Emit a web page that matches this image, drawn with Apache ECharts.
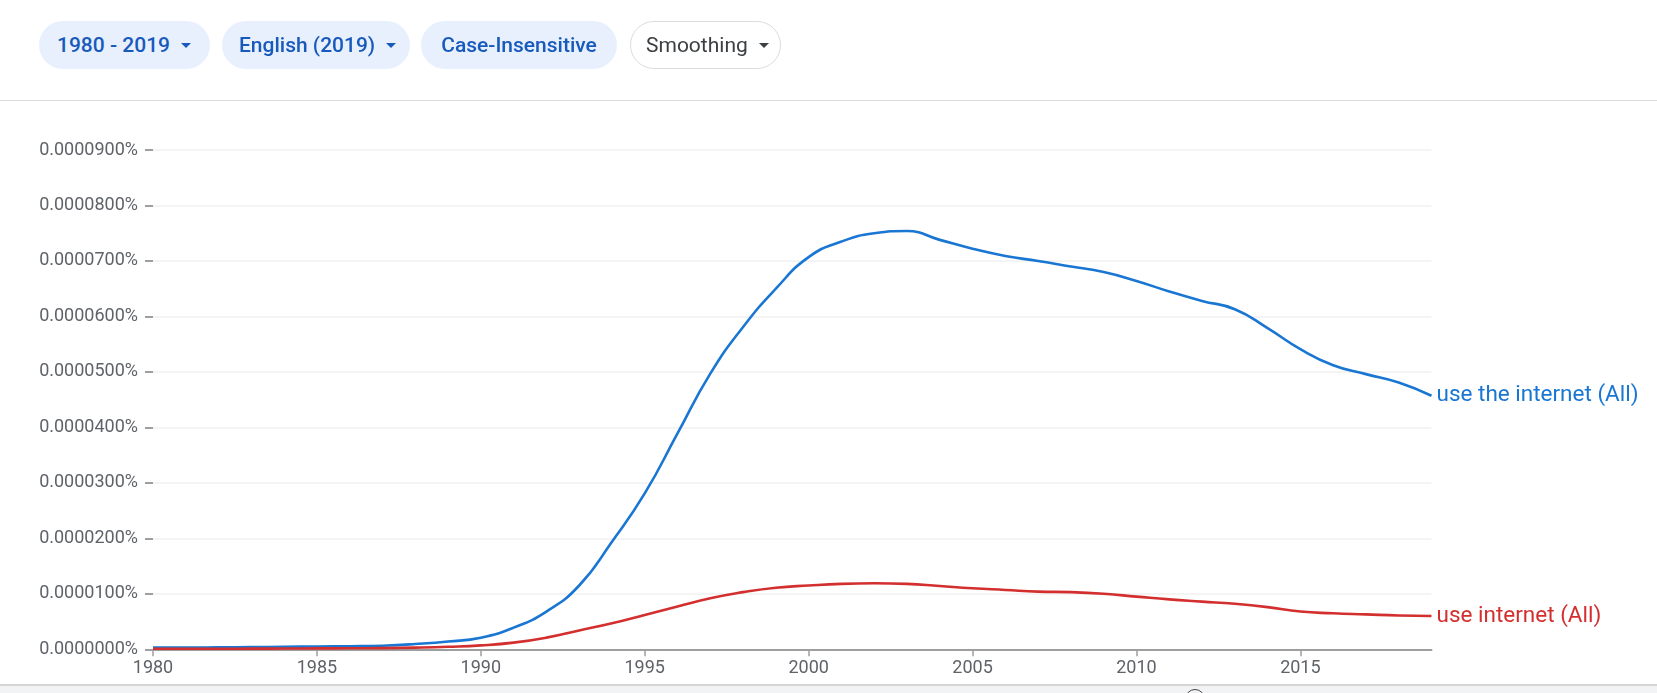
<!DOCTYPE html>
<html>
<head>
<meta charset="utf-8">
<script src="https://cdn.jsdelivr.net/npm/echarts@6/dist/echarts.min.js"></script>
<style>
  html, body { margin:0; padding:0; background:#fff; width:1657px; height:693px; overflow:hidden; font-family: Roboto, "Noto Sans", sans-serif; }
  #chart { position:absolute; left:0; top:0; width:1657px; height:693px; }
  .pill { position:absolute; top:21px; height:48px; border-radius:24px; background:#e8f0fe; color:#185abc; font-size:21px; font-weight:500; box-sizing:border-box; display:flex; align-items:center; white-space:nowrap; z-index:2; }
  .pill.plain { background:#fff; border:1px solid #dadce0; color:#3c4043; font-weight:400; }
  .tri { display:inline-block; width:0; height:0; border-left:5px solid transparent; border-right:5px solid transparent; border-top:5px solid #185abc; margin-left:11px; }
  .plain .tri { border-top-color:#3c4043; }
  #sep { position:absolute; left:0; top:100px; width:1657px; height:1px; background:#dadce0; z-index:2; }
  #foot { position:absolute; left:0; top:684px; width:1657px; height:9px; background:#f1f3f4; border-top:2px solid #d5d5d5; box-sizing:border-box; z-index:2; }
  #circ { position:absolute; left:1185px; top:689px; width:20px; height:20px; border-radius:50%; border:1px solid #444; box-sizing:border-box; z-index:3; }
</style>
</head>
<body>
<div class="pill" style="left:39px;width:171px;padding-left:18px;">1980 - 2019<span class="tri"></span></div>
<div class="pill" style="left:222px;width:188px;padding-left:17px;">English (2019)<span class="tri"></span></div>
<div class="pill" style="left:421px;width:196px;justify-content:center;">Case-Insensitive</div>
<div class="pill plain" style="left:630px;width:151px;padding-left:15px;">Smoothing<span class="tri"></span></div>
<div id="sep"></div>
<div id="chart"></div>
<div id="foot"></div>
<div id="circ"></div>
<script>
// ---- data ----
const years = [1980,1981,1982,1983,1984,1985,1986,1987,1988,1989,
               1990,1991,1992,1993,1994,1995,1996,1997,1998,1999,
               2000,2001,2002,2003,2004,2005,2006,2007,2008,2009,
               2010,2011,2012,2013,2014,2015,2016,2017,2018,2019];
const seriesNames = ['use the internet (All)', 'use internet (All)'];
// relative frequencies in percent
const useTheInternet = [
  0.0000003,0.0000003,0.00000035,0.0000004,0.00000045,0.0000005,0.00000055,0.00000065,0.00000095,0.0000014,
  0.0000021,0.0000039,0.0000068,0.0000115,0.0000194,0.0000281,0.0000389,0.0000497,0.0000581,0.000065,
  0.0000707,0.0000735,0.000075,0.0000754,0.0000738,0.0000722,0.0000709,0.00007,0.000069,0.000068,
  0.0000664,0.0000645,0.0000628,0.0000613,0.0000579,0.0000541,0.0000512,0.0000496,0.0000481,0.0000457
];
const useInternet = [
  0.0000001,0.0000001,0.0000001,0.00000012,0.00000014,0.00000016,0.00000018,0.00000022,0.0000003,0.00000045,
  0.0000007,0.0000012,0.0000021,0.0000034,0.0000047,0.0000062,0.0000077,0.0000092,0.0000103,0.0000111,
  0.0000115,0.0000118,0.0000119,0.0000118,0.0000114,0.000011,0.0000107,0.0000104,0.0000103,0.00001,
  0.0000095,0.000009,0.0000086,0.0000082,0.0000076,0.0000068,0.0000065,0.0000063,0.0000061,0.000006
];
const xTickValues = [1980,1985,1990,1995,2000,2005,2010,2015];
const yTickLabels = ['0.0000000%','0.0000100%','0.0000200%','0.0000300%','0.0000400%',
                     '0.0000500%','0.0000600%','0.0000700%','0.0000800%','0.0000900%'];
const colors = ['#1976d2', '#d32f2f'];

// ---- chart ----
const chart = echarts.init(document.getElementById('chart'), null, {renderer:'canvas'});
const pairs = arr => years.map((y, i) => [y, arr[i]]);
const mkSeries = (name, arr, color) => ({
  name: name, type: 'line', data: pairs(arr), smooth: 0.5,
  showSymbol: false, symbol: 'none',
  lineStyle: { color: color, width: 2.6 },
  itemStyle: { color: color },
  emphasis: { disabled: true },
  endLabel: { show: true, formatter: '{a}', color: color, fontSize: 22.5,
              fontFamily: 'Roboto', distance: 5 }
});
chart.setOption({
  animation: false,
  grid: { left: 153, right: 225.5, top: 150, bottom: 43.7 },
  xAxis: {
    type: 'value', min: 1980, max: 2019, interval: 5,
    splitLine: { show: false },
    axisLine: { show: true, lineStyle: { color: '#9e9e9e', width: 2 } },
    axisTick: { show: true, length: 7, customValues: xTickValues, lineStyle: { color: '#9e9e9e', width: 1.5 } },
    axisLabel: { customValues: xTickValues, color: '#5f6368', fontSize: 18, fontFamily: 'Roboto', margin: 10,
                 formatter: v => String(v) }
  },
  yAxis: {
    type: 'value', min: 0, max: 0.00009, interval: 0.00001,
    axisLine: { show: false },
    axisTick: { show: true, length: 8, lineStyle: { color: '#9e9e9e', width: 2 } },
    splitLine: { show: true, lineStyle: { color: '#f1f1f1', width: 1.5 } },
    axisLabel: { color: '#5f6368', fontSize: 18, fontFamily: 'Roboto', margin: 15,
                 formatter: v => yTickLabels[Math.round(v / 0.00001)] }
  },
  series: [
    mkSeries(seriesNames[0], useTheInternet, colors[0]),
    mkSeries(seriesNames[1], useInternet, colors[1])
  ]
});
</script>
</body>
</html>
